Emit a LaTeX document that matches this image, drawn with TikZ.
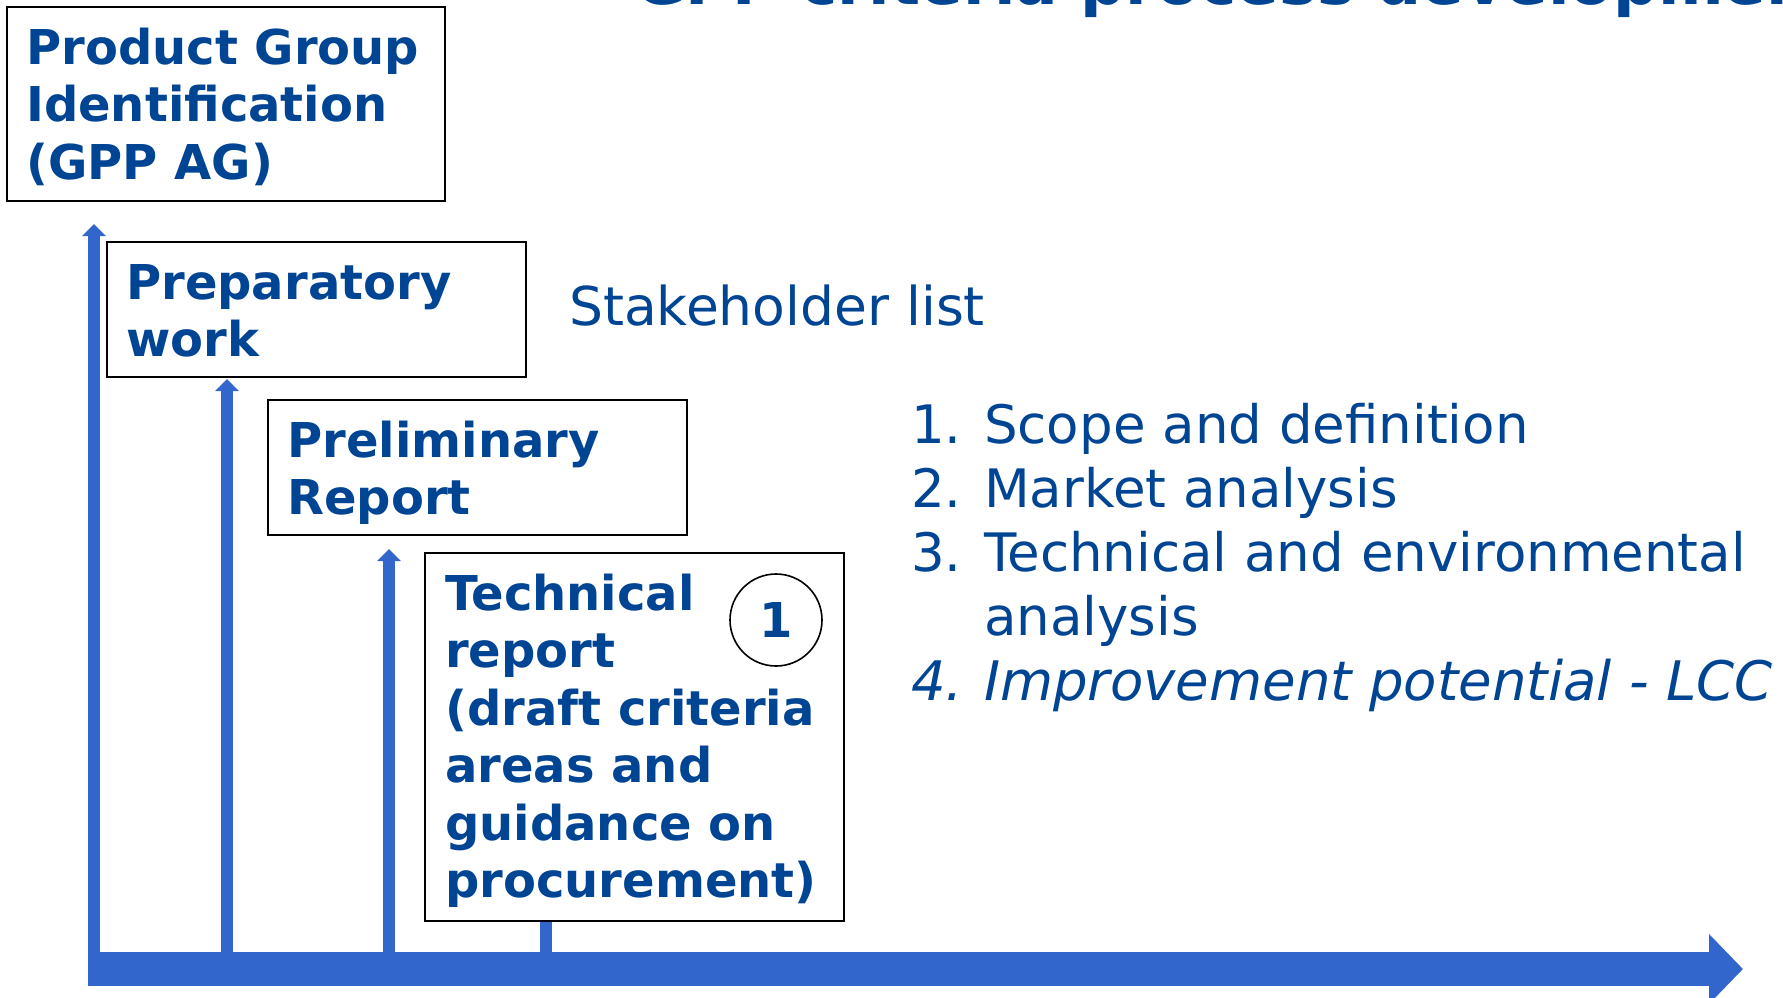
\documentclass[tikz,border=0pt]{standalone}
\usepackage{fontspec}
\setmainfont{DejaVu Sans}
\usetikzlibrary{arrows.meta,calc}

\definecolor{inkblue}{RGB}{0,68,148}
\definecolor{barblue}{RGB}{51,102,204}

% lines stacked from the baseline of the first one
\newcommand{\stack}[1]{\begin{tabular}[t]{@{}l@{}}#1\end{tabular}}

\begin{document}
\begin{tikzpicture}[x=1pt,y=-1pt,
    stage/.style={draw=black,line width=1.6pt,fill=white,anchor=north west,
      inner sep=0pt,minimum width=419pt},
    stagetext/.style={anchor=base west,inner sep=0pt,text=inkblue,
      font=\bfseries\fontsize{48}{57.5}\selectfont},
    uparrow/.style={barblue,line width=12pt,-{Triangle[width=23pt,length=12pt]}}]
    \useasboundingbox (0,0) rectangle (1783,997);
    \clip (0,0) rectangle (1783,997);

    % time line and the arrows rising from it
    \coordinate (start) at (88,969);
    \coordinate (end) at (1743,969);
    \coordinate (f1) at (94,969);
    \coordinate (f2) at (227,969);
    \coordinate (f3) at (389,969);
    \coordinate (f4) at (546,969);
    \coordinate (t1) at (94,224);
    \coordinate (t2) at (227,379);
    \coordinate (t3) at (389,549);

    \draw[uparrow] (f1) -- (t1);
    \draw[uparrow] (f2) -- (t2);
    \draw[uparrow] (f3) -- (t3);
    \draw[barblue,line width=34pt,-{Triangle[width=68pt,length=34pt]}] (start) -- (end);

    % the four stages
    \node[stage,minimum width=438pt,minimum height=194pt] (pgi) at (6,6) {};
    \node[stage,minimum height=135pt] (prep) at (106,241) {};
    \node[stage,minimum height=135pt] (prelim) at (267,399) {};
    \coordinate (tech foot) at (546,920);
    \draw[barblue,line width=12pt] (f4) -- (tech foot);
    \node[stage,minimum height=368pt] (tech) at (424,552) {};

    \node[stagetext] at ($(pgi.north west)+(20,58)$) {\stack{Product Group\\Identification\\(GPP AG)}};
    \node[stagetext] at ($(prep.north west)+(20,58)$) {\stack{Preparatory\\work}};
    \node[stagetext] at ($(prelim.north west)+(20,58)$) {\stack{Preliminary\\Report}};
    \node[stagetext] at ($(tech.north west)+(21,58)$) {\stack{Technical\\report\\(draft criteria\\areas and\\guidance on\\procurement)}};
    \node[draw=black,line width=1.6pt,circle,minimum size=92pt,inner sep=0pt,text=inkblue,
      font=\bfseries\fontsize{48}{57.5}\selectfont] (one) at (776,620) {1};

    % heading and notes
    \node[anchor=base west,inner sep=0pt,text=inkblue,font=\bfseries\fontsize{63}{75}\selectfont]
      (title) at (634,4) {GPP criteria process development};
    \node[anchor=base west,inner sep=0pt,text=inkblue,font=\fontsize{53.5}{64}\selectfont]
      (stake) at (569,325) {Stakeholder list};
    \node[anchor=base west,inner sep=0pt,text=inkblue,font=\fontsize{53}{64.3}\selectfont]
      (steps) at (911,443) {\stack{\makebox[73pt][l]{1.}Scope and definition\\
        \makebox[73pt][l]{2.}Market analysis\\
        \makebox[73pt][l]{3.}Technical and environmental\\
        \makebox[73pt][l]{}analysis\\
        \itshape\fontsize{54.5}{64.3}\selectfont\makebox[73pt][l]{4.}Improvement potential - LCC}};
\end{tikzpicture}
\end{document}
